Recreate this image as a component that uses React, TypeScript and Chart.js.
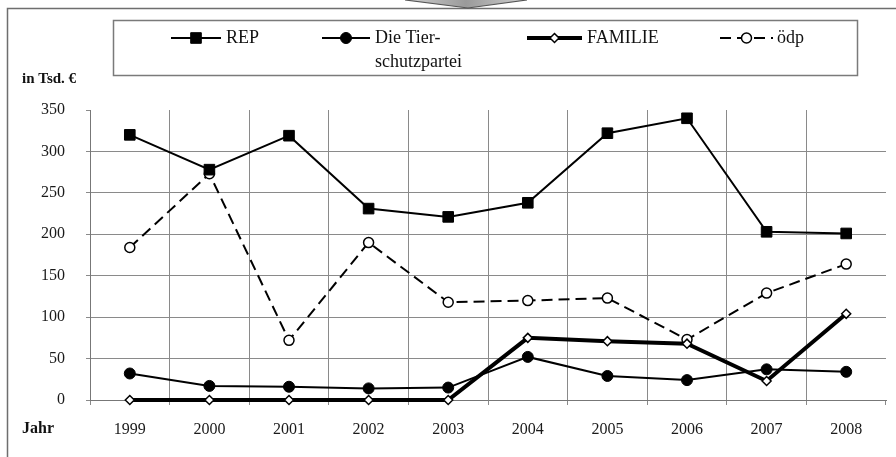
import React, { useEffect, useRef } from "react";
import { Chart, registerables } from "chart.js";

Chart.register(...registerables);

const years = ["1999", "2000", "2001", "2002", "2003", "2004", "2005", "2006", "2007", "2008"];
const rep = [320, 278, 319, 231, 221, 238, 322, 340, 203, 201];
const tierschutz = [32, 17, 16, 14, 15, 52, 29, 24, 37, 34];
const familie = [0, 0, 0, 0, 0, 75, 71, 68, 23, 104];
const oedp = [184, 273, 72, 190, 118, 120, 123, 73, 129, 164];
const yTicks = [0, 50, 100, 150, 200, 250, 300, 350];
const seriesLabels = ["REP", "Die Tier-\nschutzpartei", "FAMILIE", "ödp"];
const yUnit = "in Tsd. €";
const xTitle = "Jahr";

const SERIF = "'Liberation Serif', 'Times New Roman', serif";

function drawMarker(ctx: CanvasRenderingContext2D, ds: any, x: number, y: number) {
  const r = ds.pointRadius;
  ctx.save();
  ctx.setLineDash([]);
  ctx.fillStyle = ds.pointBackgroundColor;
  ctx.strokeStyle = ds.pointBorderColor;
  ctx.lineWidth = ds.pointBorderWidth;
  ctx.beginPath();
  if (ds.pointStyle === "rect") {
    const s = Math.SQRT1_2 * r;
    ctx.rect(x - s, y - s, 2 * s, 2 * s);
  } else if (ds.pointStyle === "rectRot") {
    ctx.moveTo(x, y - r);
    ctx.lineTo(x + r, y);
    ctx.lineTo(x, y + r);
    ctx.lineTo(x - r, y);
    ctx.closePath();
  } else {
    ctx.arc(x, y, r, 0, Math.PI * 2);
  }
  ctx.fill();
  ctx.stroke();
  ctx.restore();
}

const decorPlugin = {
  id: "decor",
  afterDraw(chart: any) {
    const ctx: CanvasRenderingContext2D = chart.ctx;
    ctx.save();
    // outer frame
    ctx.strokeStyle = "#6e6e6e";
    ctx.lineWidth = 1.5;
    ctx.beginPath();
    ctx.moveTo(7.5, 460);
    ctx.lineTo(7.5, 8.5);
    ctx.lineTo(896, 8.5);
    ctx.stroke();
    // arrow at top
    const grad = ctx.createLinearGradient(405, 0, 527, 0);
    grad.addColorStop(0, "#d0d0d0");
    grad.addColorStop(0.5, "#9a9a9a");
    grad.addColorStop(1, "#d0d0d0");
    ctx.fillStyle = grad;
    ctx.beginPath();
    ctx.moveTo(405, 0);
    ctx.lineTo(527, 0);
    ctx.lineTo(468, 8);
    ctx.closePath();
    ctx.fill();
    ctx.strokeStyle = "#555";
    ctx.lineWidth = 1.2;
    ctx.beginPath();
    ctx.moveTo(405, 0);
    ctx.lineTo(468, 8);
    ctx.lineTo(527, 0);
    ctx.stroke();

    // legend box
    ctx.strokeStyle = "#7a7a7a";
    ctx.lineWidth = 1.5;
    ctx.strokeRect(113.5, 20.5, 744, 55);

    const items = [
      { x0: 171, x1: 221, tx: 226 },
      { x0: 322, x1: 370, tx: 375 },
      { x0: 527, x1: 582, tx: 587 },
      { x0: 720, x1: 773, tx: 777 },
    ];
    const ly = 38;
    chart.data.datasets.forEach((ds: any, i: number) => {
      const it = items[i];
      ctx.save();
      ctx.strokeStyle = ds.borderColor;
      ctx.lineWidth = ds.borderWidth;
      ctx.setLineDash(ds.borderDash || []);
      ctx.beginPath();
      ctx.moveTo(it.x0, ly);
      ctx.lineTo(it.x1, ly);
      ctx.stroke();
      ctx.restore();
      drawMarker(ctx, ds, (it.x0 + it.x1) / 2, ly);
      ctx.fillStyle = "#111";
      ctx.font = `18px ${SERIF}`;
      ctx.textBaseline = "middle";
      ctx.textAlign = "left";
      const lines = String(ds.label).split("\n");
      lines.forEach((t: string, k: number) => ctx.fillText(t, it.tx, ly + k * 24));
    });

    // axis titles
    ctx.fillStyle = "#111";
    ctx.font = `bold 15px ${SERIF}`;
    ctx.textBaseline = "middle";
    ctx.textAlign = "left";
    ctx.fillText(yUnit, 22, 79);
    ctx.font = `bold 16px ${SERIF}`;
    ctx.fillText(xTitle, 22, 429);
    ctx.restore();
  },
};

export default function App() {
  const ref = useRef<HTMLCanvasElement | null>(null);
  useEffect(() => {
    document.body.style.margin = "0";
    const canvas = ref.current;
    if (!canvas) return;
    const chart = new Chart(canvas, {
      type: "line",
      data: {
        labels: years,
        datasets: [
          {
            label: seriesLabels[0],
            data: rep,
            borderColor: "#000",
            borderWidth: 2,
            pointStyle: "rect",
            pointRadius: 7.5,
            pointBackgroundColor: "#000",
            pointBorderColor: "#000",
            pointBorderWidth: 1,
            tension: 0,
            clip: false,
          },
          {
            label: seriesLabels[1],
            data: tierschutz,
            borderColor: "#000",
            borderWidth: 2,
            pointStyle: "circle",
            pointRadius: 5.5,
            pointBackgroundColor: "#000",
            pointBorderColor: "#000",
            pointBorderWidth: 1,
            tension: 0,
            clip: false,
          },
          {
            label: seriesLabels[2],
            data: familie,
            borderColor: "#000",
            borderWidth: 4,
            pointStyle: "rectRot",
            pointRadius: 4.5,
            pointBackgroundColor: "#fff",
            pointBorderColor: "#000",
            pointBorderWidth: 1.5,
            tension: 0,
            clip: false,
          },
          {
            label: seriesLabels[3],
            data: oedp,
            borderColor: "#000",
            borderWidth: 2,
            borderDash: [11, 6],
            pointStyle: "circle",
            pointRadius: 5,
            pointBackgroundColor: "#fff",
            pointBorderColor: "#000",
            pointBorderWidth: 1.5,
            tension: 0,
            clip: false,
          },
        ] as any,
      },
      options: {
        responsive: false,
        animation: false,
        devicePixelRatio: 1,
        layout: { padding: { top: 110, right: 10, left: 0, bottom: 0 } },
        plugins: { legend: { display: false }, tooltip: { enabled: false } },
        scales: {
          x: {
            type: "category",
            offset: true,
            grid: {
              offset: true,
              color: (c: any) => (c.tick ? "#8a8a8a" : "rgba(0,0,0,0)"),
              tickColor: "#8a8a8a",
              tickLength: 5,
              lineWidth: 1,
            },
            border: { color: "#777", width: 1 },
            ticks: {
              color: "#1a1a1a",
              font: { family: SERIF, size: 16 },
              padding: 15,
              maxRotation: 0,
              autoSkip: false,
            },
            afterFit: (s: any) => {
              s.height = 57;
            },
          },
          y: {
            min: 0,
            max: 350,
            afterBuildTicks: (s: any) => {
              s.ticks = yTicks.map((v) => ({ value: v }));
            },
            grid: {
              color: (c: any) => (c.tick && c.tick.value === 350 ? "rgba(0,0,0,0)" : "#8a8a8a"),
              tickColor: "#8a8a8a",
              tickLength: 4,
              lineWidth: 1,
            },
            border: { color: "#777", width: 1 },
            ticks: {
              color: "#1a1a1a",
              font: { family: SERIF, size: 16 },
              padding: 21,
            },
            afterFit: (s: any) => {
              s.width = 90;
            },
          },
        },
      } as any,
      plugins: [decorPlugin],
    });
    return () => chart.destroy();
  }, []);
  return (
    <div style={{ position: "absolute", left: 0, top: 0, width: 896, height: 457, background: "#fff" }}>
      <canvas ref={ref} width={896} height={457} style={{ display: "block" }} />
    </div>
  );
}
